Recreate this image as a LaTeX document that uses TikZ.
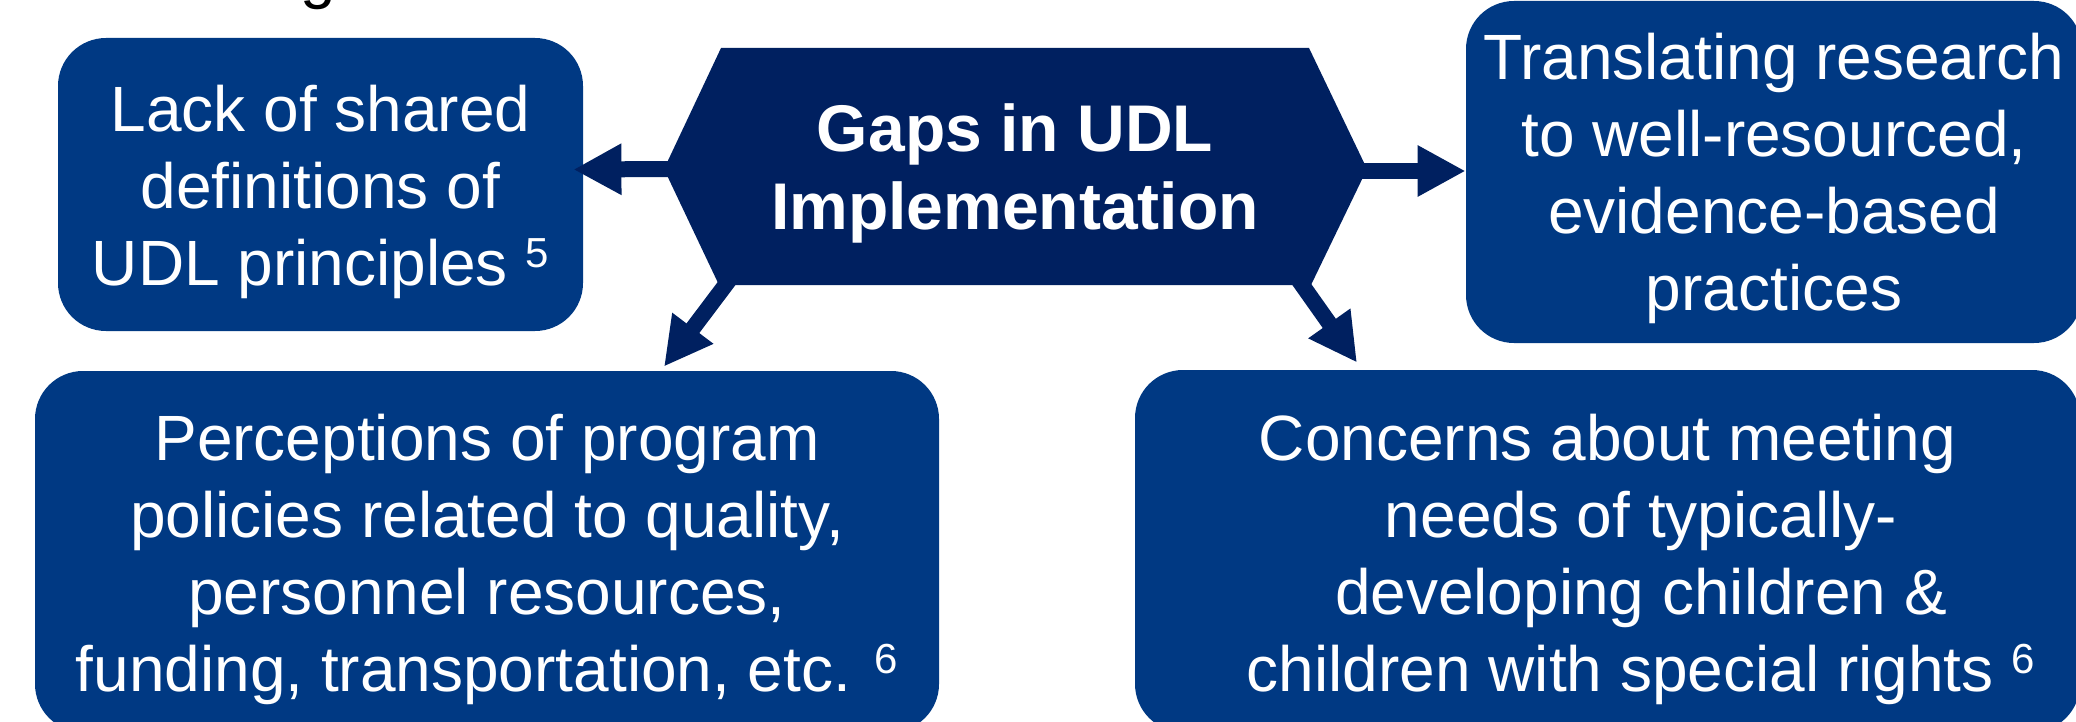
\documentclass[tikz,border=0pt]{standalone}
\usepackage{fontspec}
\setmainfont{Liberation Sans}
\usetikzlibrary{arrows.meta}

\definecolor{boxblue}{RGB}{0,57,131}
\definecolor{hexnavy}{RGB}{0,32,96}

% reference number set high after a line
\newcommand\refnum[1]{\raisebox{9pt}{\fontsize{21}{21}\selectfont #1}}
% centred lines, baseline on the first one
\newcommand\rows[1]{\begin{tabular}[t]{@{}c@{}}#1\end{tabular}}

\tikzset{
  gapbox/.style={fill=boxblue, rounded corners=24pt, inner sep=0pt, text=white,
    font=\fontsize{32}{38.5}\selectfont, text height=0pt},
  gaparrow/.style={hexnavy, line width=8pt, -{Triangle[length=24pt,width=24pt]}}
}

\begin{document}
\begin{tikzpicture}[x=0.5pt, y=-0.5pt]
    \useasboundingbox (0,0) rectangle (2076,722);
    % heading above, only its tail is on the page
    \node[anchor=base, inner sep=0pt, font=\fontsize{32}{38.5}\selectfont] (head) at (318,-3) {g};

    % the four boxes
    \node[gapbox, minimum width=262.5pt, minimum height=146.5pt, text depth=52.5pt] (A) at (320.5,184.5)
        {\rows{Lack of shared\\definitions of\\UDL principles \refnum{5}}};
    \node[gapbox, minimum width=308pt, minimum height=171pt, text depth=92pt] (B) at (1774,172)
        {\rows{Translating research\\to well-resourced,\\evidence-based\\practices}};
    \node[gapbox, minimum width=452pt, minimum height=180.5pt, text depth=91.5pt] (C) at (487,551.5)
        {\rows{Perceptions of program\\policies related to quality,\\personnel resources,\\funding, transportation, etc. \refnum{6}}};
    \node[gapbox, minimum width=472.5pt, minimum height=181pt, text depth=91pt] (D) at (1607.5,551)
        {\rows{Concerns about meeting\\\hspace*{33.5pt}needs of typically-\\\hspace*{33.5pt}developing children \&\\\hspace*{33.5pt}children with special rights \refnum{6}}};

    % centre hexagon
    \fill[hexnavy] (721,48) -- (1309,48) -- (1367,169) -- (1311,285) -- (719,285) -- (664,169) -- cycle;
    \node[inner sep=0pt, text=white, font=\bfseries\fontsize{33}{39.5}\selectfont,
          text height=0pt, text depth=15.5pt] (gaps) at (1015,166.5)
        {\rows{Gaps in UDL\\Implementation}};

    \coordinate (gw) at (676,169);
    \coordinate (ge) at (1355,171);
    \coordinate (gsw) at (736,271);
    \coordinate (gse) at (1288,265);

    \draw[gaparrow] (gw) -- ([xshift=-5pt,yshift=7.5pt]A.east);
    \draw[gaparrow] (ge) -- ([yshift=0.5pt]B.west);
    \draw[gaparrow] (gsw) -- ([xshift=88.5pt,yshift=2pt]C.north);
    \draw[gaparrow] (gse) -- ([xshift=-125.25pt,yshift=3.5pt]D.north);
\end{tikzpicture}
\end{document}
